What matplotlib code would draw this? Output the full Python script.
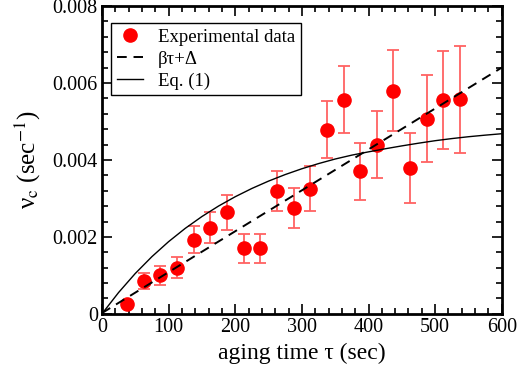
import matplotlib
matplotlib.use('Agg')
import matplotlib.pyplot as plt
from matplotlib.ticker import MultipleLocator, FuncFormatter

plt.rcParams['font.family'] = 'serif'
plt.rcParams['font.serif'] = ['Liberation Serif', 'DejaVu Serif']
plt.rcParams['mathtext.fontset'] = 'stix'

# experimental data (aging time in sec, critical frequency in 1/sec)
tau = [37.5, 62.5, 87.5, 112.5, 137.5, 162.5, 187.5, 212.5, 237.5, 262.5, 287.5,
       312.5, 337.5, 362.5, 387.5, 412.5, 437.5, 462.5, 487.5, 512.5, 537.5]
nu_c = [0.00026, 0.00085, 0.00100, 0.00120, 0.00193, 0.00224, 0.00264, 0.00170,
        0.00170, 0.00319, 0.00275, 0.00325, 0.00479, 0.00556, 0.00370, 0.00440,
        0.00580, 0.00378, 0.00507, 0.00556, 0.00558]
nu_err = [0.00000, 0.00021, 0.00025, 0.00028, 0.00036, 0.00040, 0.00045, 0.00038,
          0.00038, 0.00052, 0.00051, 0.00058, 0.00075, 0.00087, 0.00075, 0.00086,
          0.00106, 0.00091, 0.00113, 0.00128, 0.00139]

# linear fit beta*tau + delta (end points)
lin_x = [0, 600]
lin_y = [0.00002, 0.00640]

# Eq. (1) curve, sampled from the plot
eq_x = [0, 25, 50, 75, 100, 125, 150, 175, 200, 225, 250, 275, 300, 325, 350,
        375, 400, 425, 450, 475, 500, 525, 550, 575, 600]
eq_y = [0.0, 0.000555, 0.001049, 0.001487, 0.001876, 0.002222, 0.002529,
        0.002802, 0.003044, 0.003259, 0.003450, 0.003620, 0.003771, 0.003905,
        0.004024, 0.004125, 0.004210, 0.004290, 0.004365, 0.004435, 0.004500,
        0.004555, 0.004603, 0.004644, 0.004681]

fig = plt.figure(figsize=(5.2, 3.75), dpi=100)
ax = fig.add_axes([0.196, 0.163, 0.769, 0.821])

ax.errorbar(tau, nu_c, yerr=nu_err, fmt='none', ecolor='#ff6262',
            elinewidth=1.3, capsize=4, capthick=1.3, zorder=2)
ax.plot(tau, nu_c, 'o', color='#ff0000', markersize=9.5, zorder=3,
        label='Experimental data')
ax.plot(lin_x, lin_y, '--', color='black', lw=1.4, dashes=(5, 3.5),
        label='βτ+Δ', zorder=4)
ax.plot(eq_x, eq_y, '-', color='black', lw=1.0, label='Eq. (1)', zorder=4)

ax.set_xlim(0, 600)
ax.set_ylim(0, 0.008)
ax.xaxis.set_major_locator(MultipleLocator(100))
ax.xaxis.set_minor_locator(MultipleLocator(20))
ax.yaxis.set_major_locator(MultipleLocator(0.002))
ax.yaxis.set_minor_locator(MultipleLocator(0.0004))
ax.yaxis.set_major_formatter(FuncFormatter(lambda v, p: '0' if v == 0 else '%.3f' % v))

ax.tick_params(which='both', direction='in', top=True, right=True, labelsize=14.5, width=1.2)
ax.tick_params(which='major', length=7, pad=3)
ax.tick_params(which='minor', length=4)
for s in ax.spines.values():
    s.set_linewidth(2)

ax.set_xlabel('aging time τ (sec)', fontsize=17, labelpad=4)
ax.set_ylabel('ν$_\\mathrm{c}$ (sec$^{\\mathrm{-1}}$)', fontsize=18, labelpad=7)

leg = ax.legend(loc='upper left', bbox_to_anchor=(0.0, 0.975), fontsize=13.5,
                frameon=True, fancybox=False, edgecolor='black', framealpha=1,
                handlelength=1.4, borderpad=0.3, labelspacing=0.25,
                handletextpad=0.8, borderaxespad=0.5)
leg.get_frame().set_linewidth(1.0)

plt.savefig('out.png', dpi=100)
